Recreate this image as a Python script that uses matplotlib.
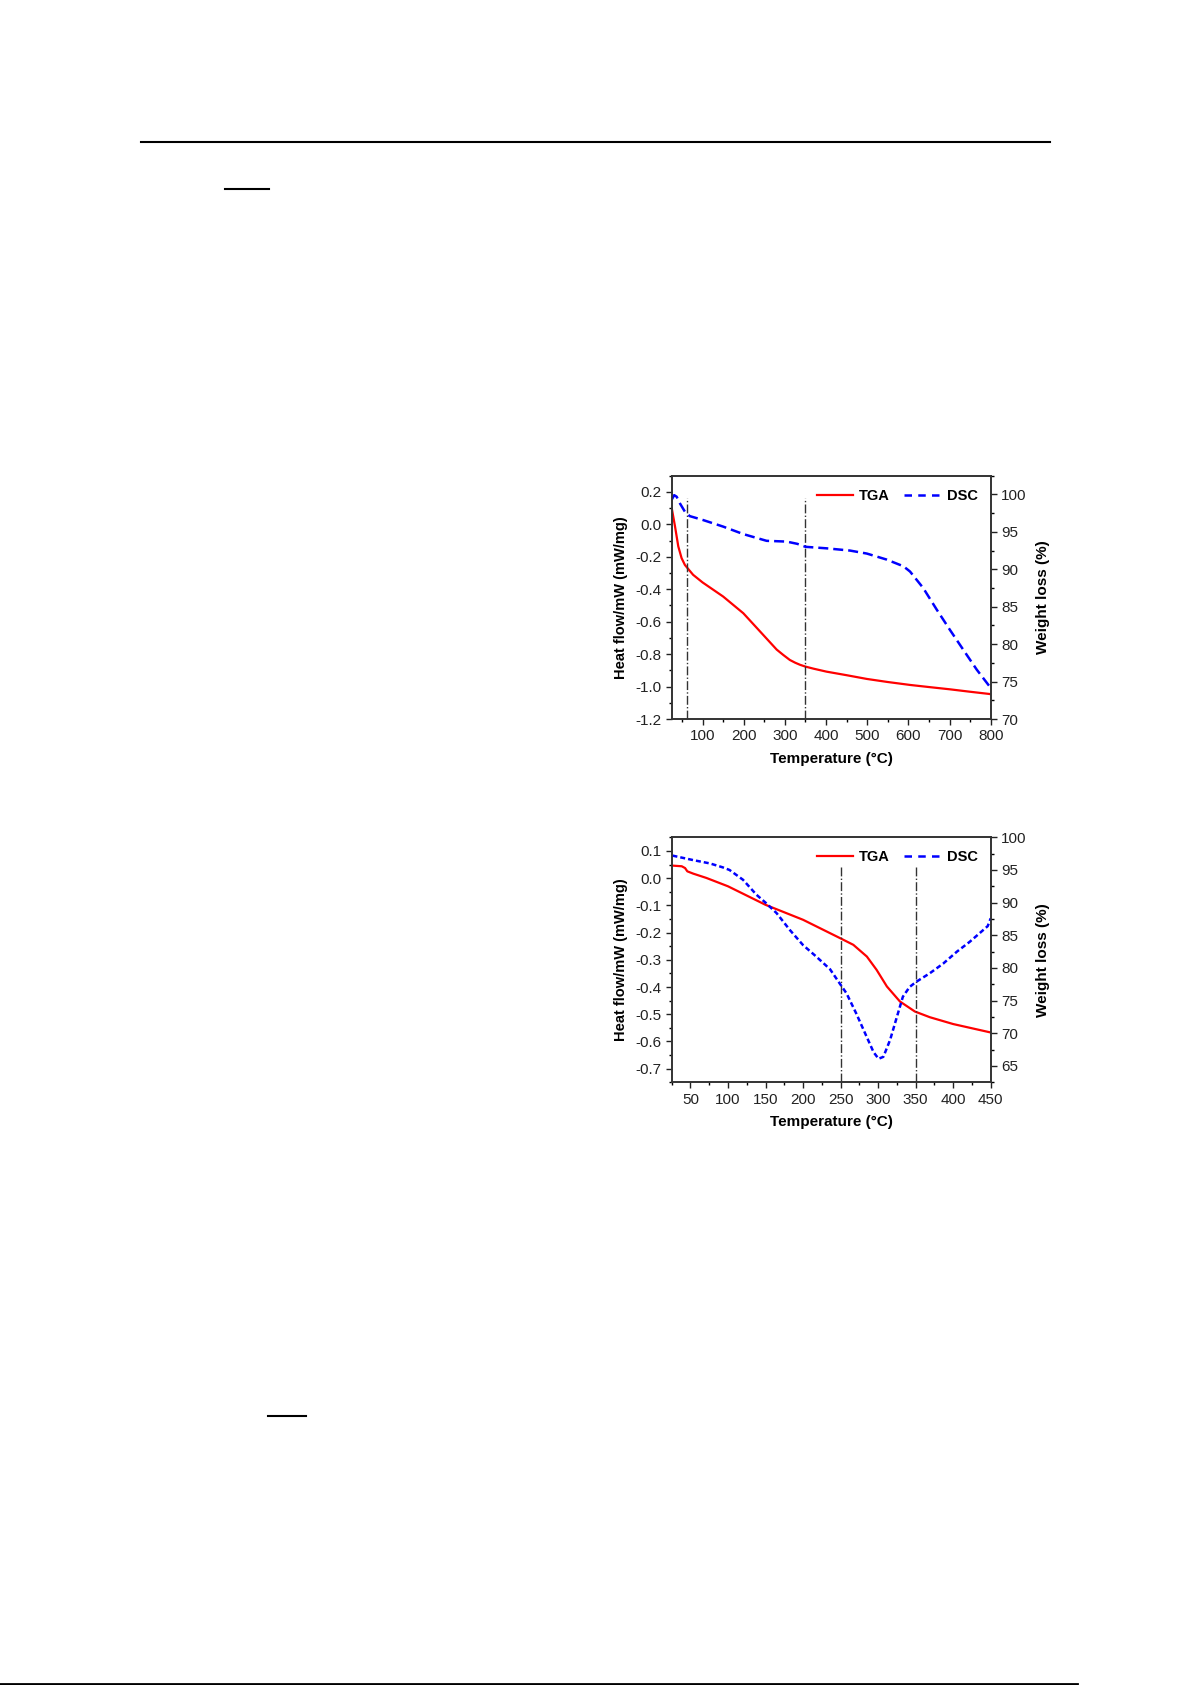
import matplotlib
matplotlib.use('Agg')
from matplotlib import pyplot as plt
from matplotlib.ticker import MultipleLocator, FormatStrFormatter
from matplotlib.lines import Line2D

plt.rcParams['font.family'] = ['Liberation Sans', 'DejaVu Sans']

# 그림 1: 25~800 C
t1_tga = [25, 33, 41, 49, 57, 63.5, 77, 100, 150, 199, 247.5, 280, 296, 312, 325, 337, 350, 370, 401, 450, 499, 550, 604, 650, 701, 750, 798, 800]
tga1 = [0.101, -0.012, -0.136, -0.208, -0.25, -0.27, -0.311, -0.358, -0.445, -0.548, -0.682, -0.772, -0.805, -0.836, -0.853, -0.866, -0.877, -0.89, -0.908, -0.93, -0.953, -0.972, -0.99, -1.003, -1.017, -1.032, -1.046, -1.048]
t1_dsc = [25, 31, 37, 45, 57, 69, 100, 150, 199, 255.6, 304, 330, 350, 401, 458, 499, 547, 588, 604, 636, 669, 701, 734, 766, 798, 800]
dsc1 = [99.3, 99.9, 99.7, 98.8, 97.7, 97.1, 96.6, 95.7, 94.7, 93.8, 93.7, 93.4, 93.0, 92.8, 92.5, 92.1, 91.3, 90.4, 89.7, 87.5, 84.6, 81.9, 79.2, 76.6, 74.3, 74.2]
vl1 = [63, 350]

# 그림 2: 25~450 C
t2_tga = [26, 38.4, 42.8, 45.8, 53.6, 71.3, 100, 150, 200, 249, 267, 285, 298, 311.7, 329, 349, 369, 400, 450]
tga2 = [0.046, 0.0436, 0.037, 0.025, 0.0166, 0.0006, -0.030, -0.098, -0.153, -0.22, -0.245, -0.288, -0.337, -0.398, -0.453, -0.49, -0.511, -0.536, -0.567]
t2_dsc = [26, 54, 76, 93, 102, 120, 138, 150, 164.7, 182.5, 200, 218, 236, 249, 258, 271, 285, 294, 300.6, 307, 316, 325, 333, 342, 351, 369, 387, 405, 422, 440, 446, 450]
dsc2 = [97.2, 96.5, 96.0, 95.4, 95.0, 93.5, 91.2, 90.0, 88.4, 85.8, 83.5, 81.7, 79.8, 77.6, 76.1, 73.0, 69.4, 67.1, 66.1, 66.4, 69.0, 72.5, 75.6, 77.1, 77.9, 79.2, 80.7, 82.5, 84.0, 85.8, 86.4, 87.6]
vl2 = [250, 350]

W, H = 1192, 1685
fig = plt.figure(figsize=(W/100, H/100), dpi=100)

# 페이지 선
fig.add_artist(Line2D([141/W, 1050/W], [1-142/H, 1-142/H], color='black', lw=1.5))
fig.add_artist(Line2D([225/W, 269/W], [1-189/H, 1-189/H], color='black', lw=1.5))
fig.add_artist(Line2D([268/W, 306/W], [1-1416/H, 1-1416/H], color='black', lw=1.5))
fig.add_artist(Line2D([0, 1077/W], [1-1683.5/H, 1-1683.5/H], color='black', lw=2))


def panel(rect, t_tga, tga, t_dsc, dsc, vl, vtop, xlim, xmaj, xmin, ylim, ymaj, ymin, y2lim, dsc_style):
    ax = fig.add_axes(rect)
    ax2 = ax.twinx()
    ax.plot(t_tga, tga, c='red', lw=1.6)
    ax2.plot(t_dsc, dsc, c='blue', lw=1.8, ls=dsc_style)
    ax.vlines(vl, ylim[0], vtop, colors='#333333', linestyles='dashdot', lw=1.0)
    ax.set_xlim(xlim)
    ax.set_ylim(ylim)
    ax2.set_ylim(y2lim)
    ax.xaxis.set_major_locator(MultipleLocator(xmaj))
    ax.xaxis.set_minor_locator(MultipleLocator(xmin))
    ax.yaxis.set_major_locator(MultipleLocator(ymaj))
    ax.yaxis.set_minor_locator(MultipleLocator(ymin))
    ax2.yaxis.set_major_locator(MultipleLocator(5))
    ax2.yaxis.set_minor_locator(MultipleLocator(2.5))
    for a in (ax, ax2):
        a.tick_params(which='major', direction='out', length=4, width=1, labelsize=11, colors='#222222')
        a.tick_params(which='minor', direction='out', length=2.5, width=1)
        for s in a.spines.values():
            s.set_linewidth(1.2)
            s.set_color('#333333')
    ax.yaxis.set_major_formatter(FormatStrFormatter('%.1f'))
    ax.set_xlabel('Temperature (°C)', fontsize=11, fontweight='bold', labelpad=6)
    ax.set_ylabel('Heat flow/mW (mW/mg)', fontsize=10.5, fontweight='bold', labelpad=5)
    ax2.set_ylabel('Weight loss (%)', fontsize=11, fontweight='bold', labelpad=7)
    h = [Line2D([], [], c='red', lw=1.6), Line2D([], [], c='blue', lw=1.8, ls=(0, (3, 2.5)))]
    ax.legend(h, ['TGA', 'DSC'], ncol=2, frameon=False, loc='upper right',
              bbox_to_anchor=(1.0, 1.0), handlelength=2.5, handletextpad=0.4,
              columnspacing=1.0, prop={'weight': 'bold', 'size': 10.5})
    return ax


panel([671.7/W, 1-719/H, 319/W, 243.3/H], t1_tga, tga1, t1_dsc, dsc1, vl1, 0.163,
      (25, 800), 100, 50, (-1.2, 0.3), 0.2, 0.1, (70, 102.5), (0, (4, 2)))
panel([671.7/W, 1-1082.3/H, 319/W, 245/H], t2_tga, tga2, t2_dsc, dsc2, vl2, 0.041,
      (25, 450), 50, 25, (-0.75, 0.15), 0.1, 0.05, (62.5, 100), (0, (2, 1.2)))

fig.savefig('out.png', dpi=100)
